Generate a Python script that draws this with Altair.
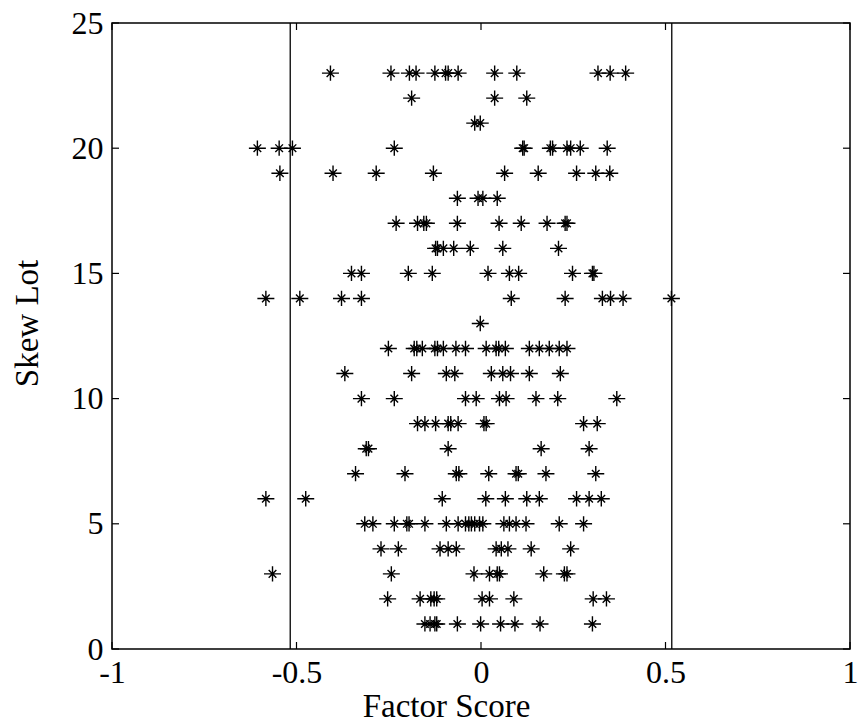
import altair as alt
import pandas as pd

# Factor scores observed for each skew lot (lots 1..23)
lot_01 = [-0.152, -0.138, -0.125, -0.120, -0.064, -0.001, 0.053, 0.092, 0.160, 0.302]
lot_02 = [-0.253, -0.165, -0.136, -0.127, -0.120, 0.003, 0.023, 0.089, 0.304, 0.340]
lot_03 = [-0.565, -0.243, -0.019, 0.023, 0.044, 0.050, 0.170, 0.226, 0.233]
lot_04 = [-0.271, -0.224, -0.111, -0.089, -0.067, 0.041, 0.055, 0.073, 0.136, 0.243]
lot_05 = [-0.315, -0.293, -0.235, -0.201, -0.195, -0.152, -0.094, -0.062, -0.042, -0.033,
          -0.026, -0.017, -0.004, 0.005, 0.062, 0.077, 0.095, 0.122, 0.212, 0.278]
lot_06 = [-0.583, -0.475, -0.105, 0.013, 0.066, 0.124, 0.158, 0.259, 0.293, 0.326]
lot_07 = [-0.340, -0.206, -0.067, -0.060, 0.021, 0.095, 0.101, 0.176, 0.311]
lot_08 = [-0.311, -0.305, -0.089, 0.163, 0.293]
lot_09 = [-0.172, -0.152, -0.123, -0.089, -0.082, -0.062, 0.008, 0.014, 0.278, 0.315]
lot_10 = [-0.324, -0.235, -0.042, -0.013, 0.050, 0.068, 0.149, 0.208, 0.368]
lot_11 = [-0.369, -0.188, -0.094, -0.071, 0.028, 0.059, 0.080, 0.131, 0.215]
lot_12 = [-0.251, -0.181, -0.174, -0.159, -0.125, -0.118, -0.102, -0.068, -0.042, 0.014,
          0.041, 0.048, 0.066, 0.131, 0.158, 0.185, 0.212, 0.233]
lot_13 = [-0.002]
lot_14 = [-0.583, -0.491, -0.378, -0.324, 0.082, 0.228, 0.329, 0.351, 0.385, 0.516]
lot_15 = [-0.351, -0.324, -0.197, -0.132, 0.019, 0.077, 0.102, 0.248, 0.302, 0.306]
lot_16 = [-0.123, -0.118, -0.102, -0.074, -0.029, 0.059, 0.210]
lot_17 = [-0.230, -0.172, -0.155, -0.148, -0.064, 0.049, 0.109, 0.179, 0.228, 0.233]
lot_18 = [-0.064, -0.008, 0.005, 0.044]
lot_19 = [-0.545, -0.401, -0.284, -0.129, 0.064, 0.155, 0.259, 0.311, 0.349]
lot_20 = [-0.606, -0.547, -0.511, -0.235, 0.113, 0.117, 0.188, 0.194, 0.233, 0.243,
          0.269, 0.342]
lot_21 = [-0.017, -0.002]
lot_22 = [-0.188, 0.037, 0.124]
lot_23 = [-0.408, -0.244, -0.194, -0.176, -0.125, -0.096, -0.089, -0.062, 0.037, 0.097,
          0.317, 0.350, 0.392]

# Vertical limit lines
limit_lines = [-0.517, 0.517]

# Tick positions
x_ticks = [-1, -0.5, 0, 0.5, 1]
y_ticks = [0, 5, 10, 15, 20, 25]

lots = [lot_01, lot_02, lot_03, lot_04, lot_05, lot_06, lot_07, lot_08, lot_09, lot_10,
        lot_11, lot_12, lot_13, lot_14, lot_15, lot_16, lot_17, lot_18, lot_19, lot_20,
        lot_21, lot_22, lot_23]
df = pd.DataFrame(
    [{"lot": i + 1, "score": s} for i, scores in enumerate(lots) for s in scores]
)

W, H = 738, 626
FONT = "Liberation Serif"
TICK = 7

# Asterisk marker: horizontal, vertical and two short diagonals
ASTERISK = "M-1,0L1,0M0,-0.9L0,0.9M-0.45,-0.45L0.45,0.45M-0.45,0.45L0.45,-0.45"

x_scale = alt.Scale(domain=[-1, 1], nice=False, zero=False)
y_scale = alt.Scale(domain=[0, 25], nice=False, zero=False)

axis_common = dict(
    ticks=False, tickSize=0, domain=False, grid=False,
    labelFont=FONT, labelFontSize=32, labelColor="black",
    titleFont=FONT, titleFontSize=33, titleFontWeight="normal", titleColor="black",
    labelFlush=False, labelOverlap=False,
)

x_enc = alt.X(
    "score:Q", scale=x_scale,
    axis=alt.Axis(
        values=x_ticks, title="Factor Score",
        labelExpr="datum.value < 0 ? '-' + format(-datum.value, '') : format(datum.value, '')",
        labelPadding=8, titlePadding=2, titleX=334, **axis_common,
    ),
)
y_enc = alt.Y(
    "lot:Q", scale=y_scale,
    axis=alt.Axis(
        values=y_ticks, title="Skew Lot", format="d",
        labelPadding=9, titlePadding=27, titleY=300, **axis_common,
    ),
)

points = alt.Chart(df).mark_point(
    shape=ASTERISK, filled=False, stroke="black", color="black",
    strokeWidth=1.4, size=289, opacity=1,
).encode(x=x_enc, y=y_enc)

limits = alt.Chart(pd.DataFrame({"score": limit_lines})).mark_rule(
    color="black", strokeWidth=1.3
).encode(x=x_enc)

xt = pd.DataFrame({"score": x_ticks})
yt = pd.DataFrame({"lot": y_ticks})

x_ticks_bottom = alt.Chart(xt).mark_rule(color="black", strokeWidth=1.2).encode(
    x=x_enc, y=alt.value(H), y2=alt.value(H - TICK)
)
x_ticks_top = alt.Chart(xt).mark_rule(color="black", strokeWidth=1.2).encode(
    x=x_enc, y=alt.value(0), y2=alt.value(TICK)
)
y_ticks_left = alt.Chart(yt).mark_rule(color="black", strokeWidth=1.2).encode(
    y=y_enc, x=alt.value(0), x2=alt.value(TICK)
)
y_ticks_right = alt.Chart(yt).mark_rule(color="black", strokeWidth=1.2).encode(
    y=y_enc, x=alt.value(W), x2=alt.value(W - TICK)
)

chart = (
    alt.layer(limits, x_ticks_bottom, x_ticks_top, y_ticks_left, y_ticks_right, points)
    .properties(
        width=W, height=H,
        autosize=alt.AutoSizeParams(type="none"),
        padding={"left": 112, "top": 23, "right": 10, "bottom": 76},
        background="white",
    )
    .configure_view(stroke="black", strokeWidth=1.5)
)

chart.save("out.html", embed_options={"renderer": "svg", "actions": False})
